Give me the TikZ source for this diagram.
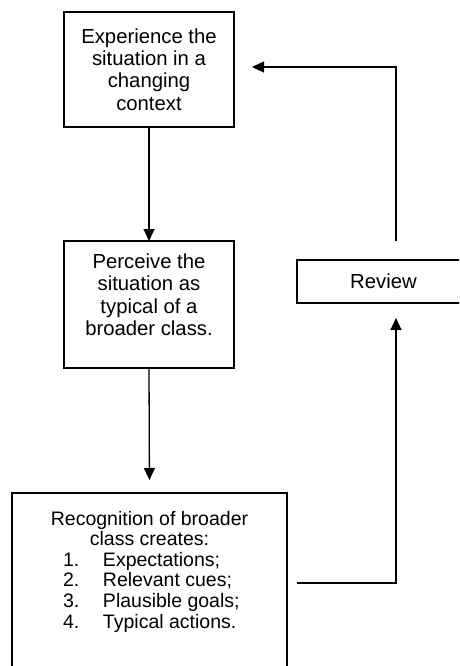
\documentclass[tikz,border=0pt]{standalone}
\usepackage{fontspec}
\setmainfont{Liberation Sans}
\usetikzlibrary{arrows.meta}

\begin{document}
\begin{tikzpicture}[x=1pt,y=-1pt,
  box/.style={draw,line width=1.5pt,inner sep=6pt,outer sep=0pt,anchor=north west},
  flow/.style={line width=1.3pt,-{Triangle[length=12pt,width=11pt]}},
  back/.style={line width=1.1pt,-{Triangle[length=12pt,width=11pt]}}]
\useasboundingbox (0,0) rectangle (459,666);
\clip (0,0) rectangle (459,666);
\fontsize{20.3}{22.2}\selectfont

\node[box,minimum width=170pt,minimum height=115pt] (exp) at (64,12)
  {\parbox{158pt}{\centering Experience the\\ situation in a\\ changing\\ context}};
\node[box,minimum width=170pt] (perc) at (64,241)
  {\parbox[c][115pt][t]{158pt}{\vspace*{7pt}\centering Perceive the\\ situation as\\ typical of a\\ broader class.}};
\node[box,minimum width=275pt] (recog) at (12,493)
  {\parbox[c][190pt][t]{263pt}{\fontsize{19.5}{20.6}\selectfont\vspace*{12pt}\centering
    Recognition of broader\\ class creates:\par\raggedright
    \hspace*{45pt}\makebox[40pt][l]{1.}Expectations;\\
    \hspace*{45pt}\makebox[40pt][l]{2.}Relevant cues;\\
    \hspace*{45pt}\makebox[40pt][l]{3.}Plausible goals;\\
    \hspace*{45pt}\makebox[40pt][l]{4.}Typical actions.}};
\node[box,line width=1.3pt,minimum width=173pt,minimum height=43pt] (rev) at (297,260) {Review};

\draw[flow] (exp.south) -- (perc.north);
\draw[flow,shorten >=13pt] (perc.south) -- (recog.north);

\coordinate (fbout) at (297,583);
\coordinate (fbin) at (396,318);
\draw[back] (fbout) -| (fbin);
\coordinate (revout) at (396,241);
\coordinate (expin) at (252,67);
\draw[back] (revout) |- (expin);
\end{tikzpicture}
\end{document}
